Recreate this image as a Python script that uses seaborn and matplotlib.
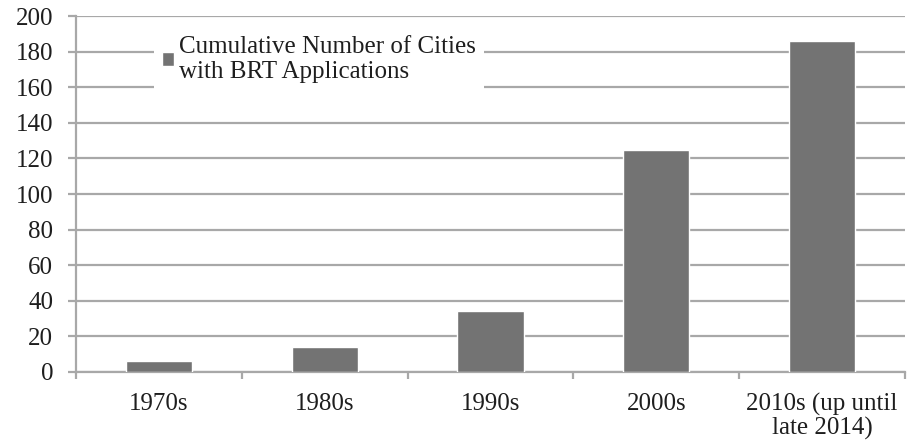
import matplotlib
matplotlib.use("Agg")
import matplotlib.pyplot as plt
import seaborn as sns
import pandas as pd
import numpy as np

decades = ["1970s", "1980s", "1990s", "2000s", "2010s (up until\nlate 2014)"]
cities = [6, 14, 34, 125, 186]
y_ticks = [0, 20, 40, 60, 80, 100, 120, 140, 160, 180, 200]
legend_label = "Cumulative Number of Cities\nwith BRT Applications"

bar_color = "#737373"
grid_color = "#a8a8a8"
text_color = "#1e1e1e"

sns.set_theme(style="white")
plt.rcParams["font.family"] = ["Liberation Serif", "DejaVu Serif"]
plt.rcParams["text.color"] = text_color

df = pd.DataFrame({"decade": decades, "cities": cities})

fig = plt.figure(figsize=(9.09, 4.46), dpi=100)
ax = fig.add_axes([0.0836, 0.166, 0.912, 0.798])

sns.barplot(data=df, x="decade", y="cities", color=bar_color, width=0.4,
            saturation=1, ax=ax, label=legend_label, zorder=3)

ax.set_ylim(0, 200)
ax.set_xlim(-0.5, len(decades) - 0.5)
ax.set_yticks(y_ticks)
ax.yaxis.grid(True, color=grid_color, linewidth=1.6, zorder=0)
ax.set_axisbelow(True)

for side in ["top", "right"]:
    ax.spines[side].set_visible(False)
for side in ["left", "bottom"]:
    ax.spines[side].set_color(grid_color)
    ax.spines[side].set_linewidth(1.6)

ax.tick_params(axis="y", which="major", left=True, length=6, width=1.6,
               color=grid_color, labelsize=18, labelcolor=text_color, pad=10.5)
ax.tick_params(axis="x", which="major", bottom=False, length=0, labelsize=18,
               labelcolor=text_color, pad=15)
# category boundary ticks on the x axis
ax.set_xticks(np.arange(-0.5, len(decades)), minor=True)
ax.tick_params(axis="x", which="minor", bottom=True, length=5, width=1.6,
               color=grid_color)
for lab in ax.get_xticklabels():
    lab.set_linespacing(1.05)

ax.set_xlabel("")
ax.set_ylabel("")

leg = ax.legend(loc="upper left", bbox_to_anchor=(0.0947, 0.966), borderaxespad=0,
                frameon=True, fontsize=18, handlelength=0.5, handleheight=0.5,
                handletextpad=0.2, borderpad=0.3, fancybox=False, framealpha=1)
leg.get_frame().set_edgecolor("white")
leg.get_frame().set_linewidth(0)
for t in leg.get_texts():
    t.set_color(text_color)

fig.savefig("out.png", dpi=100)
